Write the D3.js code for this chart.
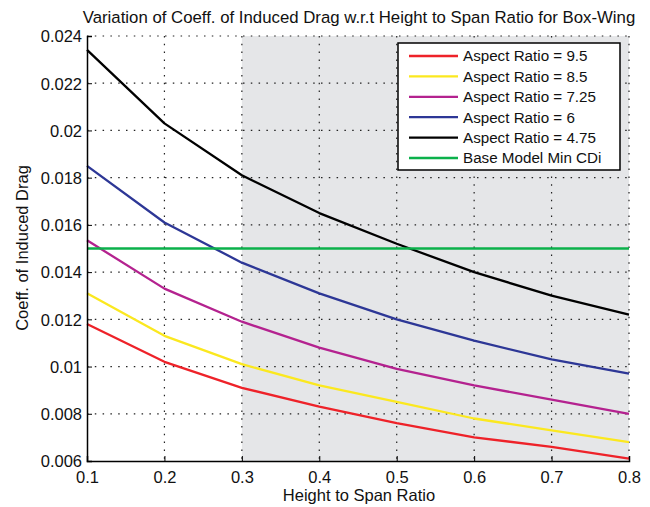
<!DOCTYPE html>
<html><head><meta charset="utf-8">
<script src="https://cdn.jsdelivr.net/npm/d3@7"></script>
<style>body{margin:0;background:#fff}svg{display:block}text{font-family:"Liberation Sans",Arial,sans-serif}</style>
</head><body><svg id="c" width="650" height="507"></svg>
<script>
const xValues = [0.1, 0.2, 0.3, 0.4, 0.5, 0.6, 0.7, 0.8];
const ar95   = [0.0118, 0.0102, 0.0091, 0.0083, 0.0076, 0.0070, 0.0066, 0.0061];
const ar85   = [0.0131, 0.0113, 0.0101, 0.0092, 0.0085, 0.0078, 0.0073, 0.0068];
const ar725  = [0.01535, 0.0133, 0.0119, 0.0108, 0.0099, 0.0092, 0.0086, 0.0080];
const ar6    = [0.0185, 0.0161, 0.0144, 0.0131, 0.0120, 0.0111, 0.0103, 0.0097];
const ar475  = [0.02341, 0.0203, 0.0181, 0.0165, 0.0152, 0.0140, 0.0130, 0.0122];
const baseMin = [0.0150, 0.0150, 0.0150, 0.0150, 0.0150, 0.0150, 0.0150, 0.0150];
const seriesNames = ["Aspect Ratio = 9.5","Aspect Ratio = 8.5","Aspect Ratio = 7.25","Aspect Ratio = 6","Aspect Ratio = 4.75","Base Model Min CDi"];
const seriesColors = ["#ee2229","#fbe81f","#b4228f","#2d3796","#000000","#0bb14b"];
const xTicks = [0.1,0.2,0.3,0.4,0.5,0.6,0.7,0.8];
const yTicks = [0.006,0.008,0.01,0.012,0.014,0.016,0.018,0.02,0.022,0.024];
const shadeRange = [0.3, 0.8];
const allSeries = [ar95, ar85, ar725, ar6, ar475, baseMin];

const L=87,R=629,T=36,B=461;
const svg=d3.select("#c");
const x=d3.scaleLinear().domain([0.1,0.8]).range([L,R]);
const y=d3.scaleLinear().domain([0.006,0.024]).range([B,T]);

svg.append("rect").attr("x",x(shadeRange[0])).attr("y",T).attr("width",x(shadeRange[1])-x(shadeRange[0])).attr("height",B-T).attr("fill","#e5e6e8");

// grid
const g=svg.append("g");
const dash="1.5,6.3";
g.selectAll(".gx").data(xTicks.slice(1)).join("line").attr("x1",d=>x(d)).attr("x2",d=>x(d)).attr("y1",T).attr("y2",B)
 .attr("stroke","#222").attr("stroke-width",1.2).attr("stroke-dasharray",dash);
g.selectAll(".gy").data(yTicks.slice(1)).join("line").attr("y1",d=>y(d)).attr("y2",d=>y(d)).attr("x1",L).attr("x2",R)
 .attr("stroke","#222").attr("stroke-width",1.2).attr("stroke-dasharray",dash);

// lines
const line=d3.line().x((d,i)=>x(xValues[i])).y(d=>y(d));
allSeries.forEach((s,k)=>{
  svg.append("path").datum(s).attr("d",line).attr("fill","none").attr("stroke",seriesColors[k]).attr("stroke-width",2.3).attr("stroke-linejoin","round");
});

// axes
const fs=16.5;
const xa=svg.append("g").attr("transform",`translate(0,${B})`).call(d3.axisBottom(x).tickValues(xTicks).tickSize(-5).tickPadding(8).tickFormat(d3.format("")));
const ya=svg.append("g").attr("transform",`translate(${L},0)`).call(d3.axisLeft(y).tickValues(yTicks).tickSize(-5).tickPadding(5).tickFormat(d=>String(+d.toFixed(3))));
[xa,ya].forEach(a=>{a.select(".domain").attr("stroke","#000").attr("stroke-width",1.5);a.selectAll(".tick line").attr("stroke","#000");a.selectAll("text").attr("font-size",fs).attr("fill","#111").attr("font-family","Liberation Sans, Arial, sans-serif");});
xa.selectAll("text").attr("dy","0.85em");
ya.selectAll("text").attr("dy","0.35em");

// titles
svg.append("text").attr("x",359).attr("y",23).attr("text-anchor","middle").attr("font-size",16.8).attr("fill","#111").text("Variation of Coeff. of Induced Drag w.r.t Height to Span Ratio for Box-Wing");
svg.append("text").attr("x",359).attr("y",501).attr("text-anchor","middle").attr("font-size",fs).attr("fill","#111").text("Height to Span Ratio");
svg.append("text").attr("transform","translate(28,248) rotate(-90)").attr("text-anchor","middle").attr("font-size",fs).attr("fill","#111").text("Coeff. of Induced Drag");

// legend
const lg=svg.append("g");
lg.append("rect").attr("x",398).attr("y",43).attr("width",222).attr("height",127).attr("fill","#fff").attr("stroke","#000").attr("stroke-width",1.5);
seriesNames.forEach((n,i)=>{
  const yy=56+i*20.4;
  lg.append("line").attr("x1",409).attr("x2",458).attr("y1",yy).attr("y2",yy).attr("stroke",seriesColors[i]).attr("stroke-width",2.3);
  lg.append("text").attr("x",463).attr("y",yy).attr("dy","0.35em").attr("font-size",15.2).attr("fill","#111").text(n);
});
</script></body></html>
